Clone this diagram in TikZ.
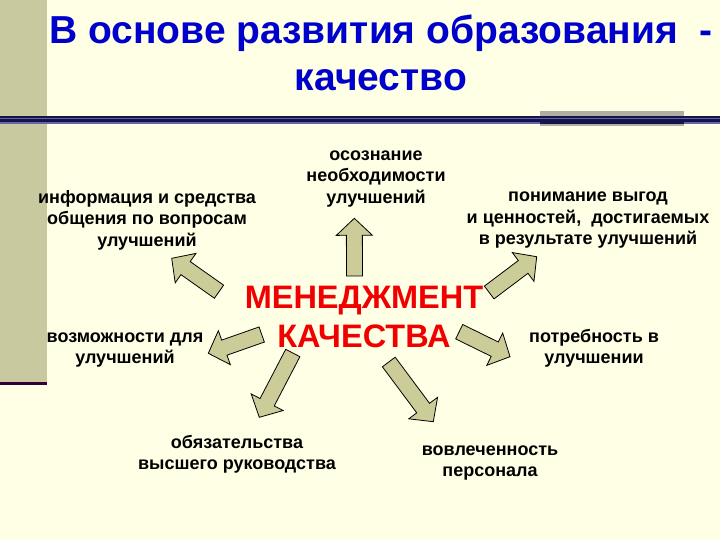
\documentclass[tikz,border=0pt]{standalone}
\usepackage{fontspec}
\setmainfont{Liberation Sans}
\usetikzlibrary{calc}
\definecolor{bg}{HTML}{FFFFE5}
\definecolor{strip}{HTML}{C9C9A0}
\definecolor{stripline}{HTML}{330033}
\definecolor{arrowfill}{HTML}{CCCC99}
\definecolor{navy}{HTML}{14144A}
\definecolor{lightnavy}{HTML}{6464A8}
\definecolor{graybox}{HTML}{B0AFA5}
\definecolor{titleblue}{HTML}{0000CC}
\definecolor{mred}{HTML}{F00000}
\newcommand\blockarrow[2]{%
  \coordinate (h#1) at ($(#2)!17pt!(#1)$);
  \filldraw[arrowbox] ($(#1)!8pt!90:(#2)$) -- ($(h#1)!8pt!90:(#2)$) -- ($(h#1)!18pt!90:(#2)$)
    -- (#2) -- ($(h#1)!18pt!-90:(#2)$) -- ($(h#1)!8pt!-90:(#2)$) -- ($(#1)!8pt!-90:(#2)$) -- cycle;
}
\tikzset{
  arrowbox/.style={fill=arrowfill, draw=black, line width=0.8pt, line join=miter},
  label/.style={anchor=base, align=center, inner sep=0pt, font=\fontsize{18}{21.5}\selectfont\bfseries, text=black},
}
\begin{document}
\begin{tikzpicture}[x=1pt,y=-1pt]
\useasboundingbox (0,0) rectangle (720,540);
\fill[bg] (0,0) rectangle (720,540);
\fill[strip] (0,0) rectangle (47,382);
\fill[stripline] (0,382) rectangle (47,385);
\fill[graybox] (540,111.3) rectangle (684,125.7);
\fill[navy] (0,116) rectangle (720,124);
\fill[lightnavy] (0,118) rectangle (720,119.4);
\fill[lightnavy] (0,122) rectangle (540,124);
\fill[lightnavy] (684,122) rectangle (720,124);

\node[anchor=base, align=center, inner sep=0pt, text=titleblue,
  font=\fontsize{39}{46.5}\selectfont\bfseries] (title) at (381,90.5)
  {В основе развития образования ~-\\качество};

\node[anchor=base, align=center, inner sep=0pt, text=mred,
  font=\fontsize{32.5}{39}\selectfont\bfseries] (center) at (364,347)
  {МЕНЕДЖМЕНТ\\КАЧЕСТВА};

\node[label] (l1) at (376,203.5) {осознание\\необходимости\\улучшений};
\node[label] (l2) at (147,246.5) {информация и средства\\общения по вопросам\\улучшений};
\node[label] (l3) at (588,244.5) {понимание выгод\\и ценностей,~ достигаемых\\в результате улучшений};
\node[label] (l4) at (125,363.5) {возможности для\\улучшений};
\node[label] (l5) at (594,363.5) {потребность в\\улучшении};
\node[label] (l6) at (237,469.5) {обязательства\\высшего руководства};
\node[label] (l7) at (490,476.5) {вовлеченность\\персонала};

\coordinate (t1) at (354.5,276);   \coordinate (p1) at (354.3,218.3);
\coordinate (t2) at (219,291.7);   \coordinate (p2) at (171.7,258.3);
\coordinate (t3) at (261.7,334.5); \coordinate (p3) at (208.3,353.3);
\coordinate (t4) at (489.2,292.5); \coordinate (p4) at (536.7,256.7);
\coordinate (t5) at (459.2,331.7); \coordinate (p5) at (510,356.7);
\coordinate (t6) at (292.8,353);   \coordinate (p6) at (259.3,417.3);
\coordinate (t7) at (388.8,362);   \coordinate (p7) at (433.3,421.7);
\blockarrow{t1}{p1}
\blockarrow{t2}{p2}
\blockarrow{t3}{p3}
\blockarrow{t4}{p4}
\blockarrow{t5}{p5}
\blockarrow{t6}{p6}
\blockarrow{t7}{p7}
\end{tikzpicture}
\end{document}
